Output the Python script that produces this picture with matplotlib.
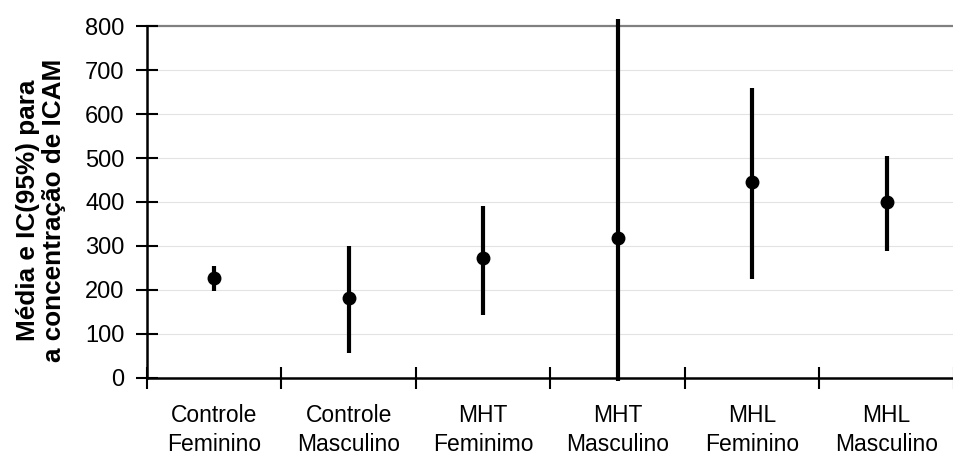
import matplotlib.pyplot as plt
import numpy as np

plt.rcParams['font.family'] = ['Liberation Sans', 'DejaVu Sans']

# groups and values
grupos = ['Controle\nFeminino', 'Controle\nMasculino', 'MHT\nFeminimo',
          'MHT\nMasculino', 'MHL\nFeminino', 'MHL\nMasculino']
media = [227, 182, 273, 318, 445, 400]
ic_inf = [198, 57, 143, -7, 225, 289]
ic_sup = [255, 300, 391, 816, 659, 505]

x = np.arange(len(grupos))
media = np.array(media)
err = [media - np.array(ic_inf), np.array(ic_sup) - media]

fig = plt.figure(figsize=(9.54, 4.57), dpi=100)
ax = fig.add_axes([0.154, 0.173, 0.846, 0.770])

# light grid lines
for v in range(100, 800, 100):
    ax.axhline(v, color='#e3e3e3', lw=0.8, zorder=0)
ax.axhline(800, color='#808080', lw=1.6, zorder=1, clip_on=False)

ax.errorbar(x, media, yerr=err, fmt='o', color='black', ms=9,
            elinewidth=3.0, capsize=0, clip_on=False, zorder=3)

ax.set_xlim(-0.5, 5.46)
ax.set_ylim(0, 800)
ax.set_yticks(range(0, 801, 100))

ax.set_xticks(x)
ax.set_xticklabels(grupos, fontsize=16.5, linespacing=1.3)
ax.set_xticks(np.arange(-0.5, 6, 1), minor=True)
ax.tick_params(axis='x', which='major', length=0, pad=19)
ax.tick_params(axis='x', which='minor', length=16, width=1.5, direction='inout')
ax.tick_params(axis='y', length=16, width=1.5, direction='inout', labelsize=17, pad=8)

for s in ['top', 'right']:
    ax.spines[s].set_visible(False)
for s in ['left', 'bottom']:
    ax.spines[s].set_linewidth(1.8)

ax.set_ylabel('Média e IC(95%) para\na concentração de ICAM', fontsize=18.8,
              fontweight='bold', linespacing=1.1)
ax.yaxis.set_label_coords(-0.1, 0.477)

fig.savefig('out.png', dpi=100)
